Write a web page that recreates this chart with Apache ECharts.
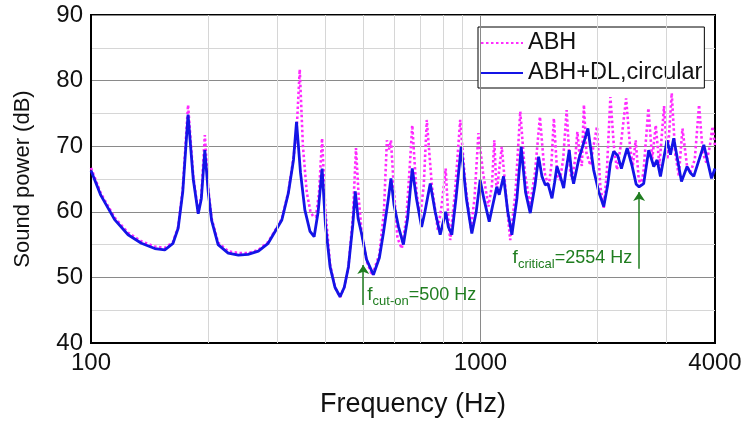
<!DOCTYPE html>
<html><head><meta charset="utf-8">
<script src="https://cdn.jsdelivr.net/npm/echarts@6/dist/echarts.min.js"></script>
<style>html,body{margin:0;padding:0;background:#fff}#c{width:746px;height:425px}</style>
</head><body><div id="c"></div>
<script>
// ---------- data ----------
const freqABH = [100,106,115,124.5,134.7,145.8,154.7,162.4,167.4,172,177.5,183,188.5,192,196,200,204,212,225,239,253,269,285,309,321,331,337,343.5,350,358,366,372,378,385,392,400,411,423,436,447,458,470,479,487,495,510,527,550,565,575,582,589,600,612,628,645,660,668,685,700,715,728,750,777,795,814,827,836,860,887,915,945,965,988,1015,1048,1070,1085,1100,1134,1165,1192,1230,1265,1300,1340,1380,1421,1460,1496,1520,1543,1575,1600,1630,1664,1700,1717,1750,1773,1800,1821,1843,1870,1914,1950,1991,2030,2072,2110,2155,2200,2241,2290,2365,2420,2460,2503,2548,2580,2620,2698,2760,2818,2880,2960,3020,3097,3160,3230,3300,3390,3460,3550,3640,3720,3800,3880,3942,4000];
const powerABH = [66.7,62.8,59.1,56.8,55.5,54.7,54.5,55.4,57.7,63.5,76.3,65.5,59.8,62.5,71.7,63.5,59,55.3,54,53.7,53.7,54.2,55.4,58.9,63,68.2,72,81.7,70,63,60,59.3,59.25,63,71.2,60,52,48.5,47,48.5,51.6,59,69.7,62,57,52.5,50.3,53.5,60,70.9,69.5,70.9,63,56,54.4,59,68,73.2,63,59.25,64,74,64,57.2,61,66.6,59,55.7,63,74,64,57.5,62,72,66,60.8,64,70.9,62.8,69.9,62,55.7,63,75.3,66,61,66,74.5,66,63.8,67,74.25,65.5,64.85,68,75.5,66,65,68,72.2,68,67,76.3,69,67.1,70,73,64,60.6,66,77.5,70,66.4,70,77.3,70,67,70.9,65,64,66,75.8,68,73.2,67,76.1,68,78.1,69,65.5,72.7,67,66,68,76.3,69,67.5,70,73,70];

const freqDL = [100,106,115,124.5,134.7,145.8,154.7,162.4,167.4,172,177.5,183,188.5,192,196,200,204,212,225,239,253,269,285,309,321,331,337,345,354,365,374,383,392,400,411,423,436,447,458,470,477,485,495,510,531,550,563,580,589,600,616,634,650,668,685,706,720,743,765,788,814,827,844,865,892,920,950,975,998,1020,1053,1075,1101,1117,1146,1175,1204,1240,1272,1305,1342,1380,1410,1438,1467,1490,1526,1550,1571,1603,1635,1660,1690,1717,1734,1786,1830,1887,1952,2011,2072,2120,2155,2198,2250,2300,2380,2450,2510,2554,2624,2703,2785,2840,2897,3013,3074,3134,3196,3281,3391,3460,3528,3744,3918,4000];
const powerDL = [66.3,62.5,58.8,56.5,55.2,54.4,54.2,55.2,57.5,63,74.8,65,59.7,62,69.4,63,58.7,55,53.7,53.4,53.5,54,55.2,58.75,62.8,67.9,73.7,66,60.3,57,56.2,60,66.6,58,51.6,48.5,47.05,48.5,51.6,58,63.1,59,56.7,52.7,50.4,53,56.7,62,65.1,61,57.7,55,59,66.6,62,57.7,60,64.3,60,56.5,60,57.7,56.5,62,69.9,62,56.7,60,64.85,62,58.5,61,63.8,62.6,65.4,60,56.5,62,69.9,63,59.8,64,68.4,65.4,64.1,64.3,62.05,64.5,66.9,65.4,63.6,66.5,69.4,65.5,64.3,67.9,70,72.7,66.4,63.1,60.8,64,67.4,69.2,68.6,66.6,69.7,67,64.2,63.8,64.3,69.4,66.9,67.9,65.4,70.9,68.7,71.2,68.4,64.6,66.9,65.9,65.4,70.2,65.1,66.6];

const xTickLabels = [100, 1000, 4000];
const minorGridFreqs = [200, 300, 400, 500, 600, 700, 800, 900, 2000, 3000];
const majorGridFreqs = [1000];
const seriesNames = ['ABH', 'ABH+DL,circular'];
const cutOnFreq = 500;
const criticalFreq = 2554;

// ---------- chart ----------
const font = 'Arial, "Liberation Sans", sans-serif';
const green = '#1f7d1f';
const zip = (a, b) => a.map((v, i) => [v, b[i]]);
const chart = echarts.init(document.getElementById('c'), null, {renderer: 'canvas'});

const richAnn = {
  f: {fontSize: 19, color: green, lineHeight: 26, fontFamily: font, verticalAlign: 'middle'},
  s: {fontSize: 13, color: green, lineHeight: 13, fontFamily: font, verticalAlign: 'bottom'},
  n: {fontSize: 18, color: green, lineHeight: 26, fontFamily: font, verticalAlign: 'middle'}
};

const option = {
  animation: false,
  backgroundColor: '#fff',
  grid: {left: 91, right: 31, top: 15, bottom: 82, show: true, borderColor: '#000', borderWidth: 2, backgroundColor: 'transparent'},
  xAxis: {
    type: 'log', logBase: 10, min: 100, max: 4000,
    name: 'Frequency (Hz)', nameLocation: 'middle', nameGap: 48,
    nameTextStyle: {fontSize: 27, color: '#111', fontFamily: font, padding: [0, 0, 0, 20]},
    axisLine: {show: true, lineStyle: {color: '#000', width: 2}},
    axisTick: {show: false},
    splitLine: {show: false},
    axisLabel: {customValues: xTickLabels, fontSize: 24, color: '#111', fontFamily: font, margin: 8, formatter: v => String(Math.round(v))}
  },
  yAxis: {
    type: 'value', min: 40, max: 90, interval: 10,
    name: 'Sound power (dB)', nameLocation: 'middle', nameGap: 57,
    nameTextStyle: {fontSize: 22, color: '#111', fontFamily: font},
    axisLine: {show: true, lineStyle: {color: '#000', width: 2}},
    axisTick: {show: false},
    axisLabel: {fontSize: 24, color: '#111', fontFamily: font, margin: 8},
    splitLine: {show: true, lineStyle: {color: '#8a8a8a', width: 1}},
    minorTick: {show: false, splitNumber: 2},
    minorSplitLine: {show: true, lineStyle: {color: '#d6d6d6', width: 1}}
  },
  legend: {
    data: seriesNames,
    orient: 'vertical', left: 478, top: 27,
    padding: [4, 2, 3, 2],
    itemWidth: 42, itemHeight: 14, itemGap: 6,
    backgroundColor: '#fff', borderColor: '#000', borderWidth: 1, borderRadius: 0,
    itemStyle: {opacity: 0},
    textStyle: {fontSize: 23.5, color: '#111', fontFamily: font, lineHeight: 24}
  },
  series: [
    {
      name: '_grid', type: 'line', data: [], z: 1, silent: true,
      markLine: {
        silent: true, symbol: ['none', 'none'], animation: false,
        label: {show: false},
        data: minorGridFreqs.map(f => ({xAxis: f, lineStyle: {color: '#d6d6d6', width: 1, type: 'solid'}}))
          .concat(majorGridFreqs.map(f => ({xAxis: f, lineStyle: {color: '#8a8a8a', width: 1, type: 'solid'}})))
      }
    },
    {
      name: seriesNames[0], type: 'line', data: zip(freqABH, powerABH), z: 2,
      showSymbol: false, symbol: 'none',
      lineStyle: {color: '#ff2bff', width: 2.6, type: [2.5, 2.5]},
      itemStyle: {color: '#ff2bff'}
    },
    {
      name: seriesNames[1], type: 'line', data: zip(freqDL, powerDL), z: 3,
      showSymbol: false, symbol: 'none',
      lineStyle: {color: '#1414e6', width: 2.8, type: 'solid'},
      itemStyle: {color: '#1414e6'}
    },
    {
      name: '_ann', type: 'line', data: [], z: 5, silent: true,
      markLine: {
        silent: true, symbol: ['none', 'arrow'], symbolSize: 9, animation: false,
        label: {show: false},
        lineStyle: {color: green, width: 1.5, type: 'solid'},
        data: [
          [{coord: [cutOnFreq, 45.8]}, {coord: [cutOnFreq, 51.9]}],
          [{coord: [criticalFreq, 51.3]}, {coord: [criticalFreq, 63.0]}]
        ]
      },
      markPoint: {
        silent: true, symbol: 'circle', symbolSize: 0, animation: false,
        data: [
          {coord: [512, 47.3], label: {show: true, position: 'right', distance: 0, formatter: '{f|f}{s|cut-on}{n|=' + cutOnFreq + ' Hz}', rich: richAnn}},
          {coord: [1209, 52.96], label: {show: true, position: 'right', distance: 0, formatter: '{f|f}{s|critical}{n|=' + criticalFreq + ' Hz}', rich: richAnn}}
        ]
      }
    }
  ]
};
chart.setOption(option);
</script>
</body></html>
